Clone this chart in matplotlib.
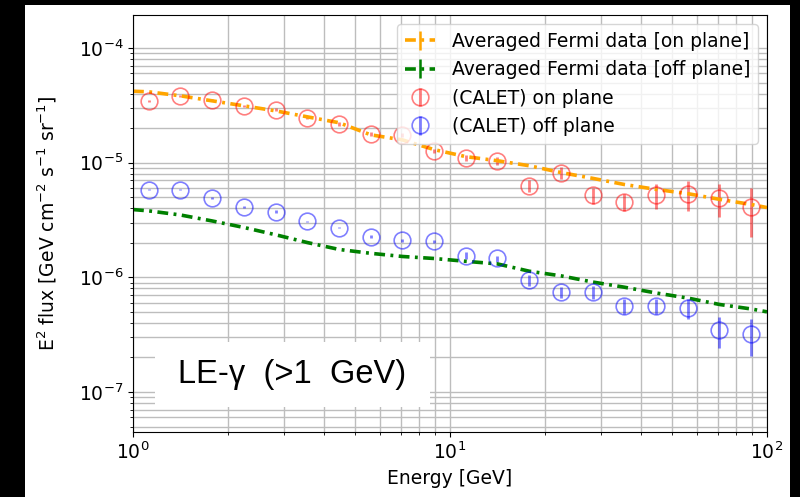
import matplotlib
matplotlib.use("Agg")
import matplotlib.pyplot as plt
from matplotlib.patches import Rectangle

# Energy bins (GeV)
energy = [1.12, 1.41, 1.78, 2.24, 2.82, 3.55, 4.47, 5.62, 7.08, 8.91,
          11.2, 14.1, 17.8, 22.4, 28.2, 35.5, 44.7, 56.2, 70.8, 89.1]

# CALET E^2 flux, on / off galactic plane
calet_on = [3.46e-5, 3.83e-5, 3.54e-5, 3.13e-5, 2.89e-5, 2.46e-5, 2.18e-5, 1.79e-5, 1.75e-5, 1.27e-5,
            1.10e-5, 1.04e-5, 6.3e-6, 8.2e-6, 5.2e-6, 4.58e-6, 5.27e-6, 5.37e-6, 4.96e-6, 4.14e-6]
calet_on_err = [7e-7, 8e-7, 7e-7, 6e-7, 9e-7, 7e-7, 9e-7, 7e-7, 7e-7, 5e-7,
                7e-7, 9e-7, 8e-7, 1.0e-6, 8e-7, 8e-7, 1.3e-6, 1.6e-6, 1.6e-6, 1.9e-6]
calet_off = [5.82e-6, 5.82e-6, 4.96e-6, 4.14e-6, 3.75e-6, 3.07e-6, 2.72e-6, 2.27e-6, 2.10e-6, 2.06e-6,
             1.55e-6, 1.46e-6, 9.4e-7, 7.41e-7, 7.41e-7, 5.6e-7, 5.6e-7, 5.37e-7, 3.46e-7, 3.19e-7]
calet_off_err = [6e-8, 6e-8, 1.0e-7, 8e-8, 8e-8, 6e-8, 5e-8, 7e-8, 6e-8, 6e-8,
                 1.0e-7, 9e-8, 1.0e-7, 8e-8, 9.5e-8, 8.4e-8, 8.4e-8, 1.06e-7, 1.03e-7, 1.12e-7]

# Averaged Fermi spectra
fermi_energy = [1.0, 1.12, 1.41, 1.78, 2.24, 2.82, 3.55, 4.47, 5.62, 7.08, 8.91,
                11.2, 14.1, 17.8, 22.4, 28.2, 35.5, 44.7, 56.2, 70.8, 89.1, 100.0]
fermi_on = [4.2e-5, 4.15e-5, 3.83e-5, 3.46e-5, 3.13e-5, 2.83e-5, 2.51e-5, 2.23e-5, 1.75e-5, 1.58e-5, 1.30e-5,
            1.13e-5, 1.04e-5, 9.4e-6, 8.2e-6, 7.3e-6, 6.45e-6, 5.85e-6, 5.37e-6, 4.79e-6, 4.32e-6, 4.06e-6]
fermi_off = [3.9e-6, 3.8e-6, 3.5e-6, 3.1e-6, 2.72e-6, 2.35e-6, 2.01e-6, 1.75e-6, 1.62e-6, 1.52e-6, 1.46e-6,
             1.38e-6, 1.31e-6, 1.13e-6, 1.03e-6, 9.1e-7, 8.2e-7, 7.3e-7, 6.6e-7, 5.8e-7, 5.3e-7, 5.0e-7]
fermi_err = [0.0] * len(fermi_energy)

W, H = 800, 497
fig = plt.figure(figsize=(W / 100, H / 100), dpi=100, facecolor="black")
# white page area behind the plot
page = fig.add_axes([25 / W, 0, (790 - 25) / W, (H - 5) / H], zorder=-5)
page.set_axis_off()
page.add_patch(Rectangle((0, 0), 1, 1, transform=page.transAxes, facecolor="white", edgecolor="none"))

ax = fig.add_axes([133 / W, 1 - 432 / H, (767 - 133) / W, (432 - 15) / H], zorder=1)
ax.set_xscale("log")
ax.set_yscale("log")

dashdot = (0, (3.0, 1.5, 0.8, 1.5))
for y, c, lab in [(fermi_on, "orange", "Averaged Fermi data [on plane]"),
                  (fermi_off, "green", "Averaged Fermi data [off plane]")]:
    cont = ax.errorbar(fermi_energy, y, yerr=fermi_err, fmt="-", color=c, lw=2.6,
                       elinewidth=1.8, label=lab)
    cont[0].set_linestyle(dashdot)

ax.errorbar(energy, calet_on, yerr=calet_on_err, fmt="o", ms=12, mfc="none", mec="red",
            color="red", alpha=0.5, elinewidth=2, mew=1.2, label="(CALET) on plane")
ax.errorbar(energy, calet_off, yerr=calet_off_err, fmt="o", ms=12, mfc="none", mec="blue",
            color="blue", alpha=0.5, elinewidth=2, mew=1.2, label="(CALET) off plane")

ax.set_xlim(1, 100)
ax.set_ylim(10 ** -7.349, 10 ** -3.712)
ax.grid(True, which="both", color="0.74", lw=1.0)
ax.set_axisbelow(True)

fs = 13.5
ax.tick_params(labelsize=fs)
ax.set_xlabel("Energy [GeV]", fontsize=fs)
ax.set_ylabel(r"E$^2$ flux [GeV cm$^{-2}$ s$^{-1}$ sr$^{-1}$]", fontsize=fs, labelpad=14)

ax.legend(loc="upper right", fontsize=fs, handlelength=1.6, handletextpad=0.9)

ax.add_patch(Rectangle((0.0347, 0.060), 0.433, 0.156, transform=ax.transAxes,
                       facecolor="white", edgecolor="none", zorder=3))
ax.text(0.251, 0.138, "LE-γ  (>1  GeV)", transform=ax.transAxes, ha="center", va="center",
        fontsize=23.5, family="Liberation Sans", color="black", zorder=4)

fig.savefig("out.png", dpi=100, facecolor="black")
